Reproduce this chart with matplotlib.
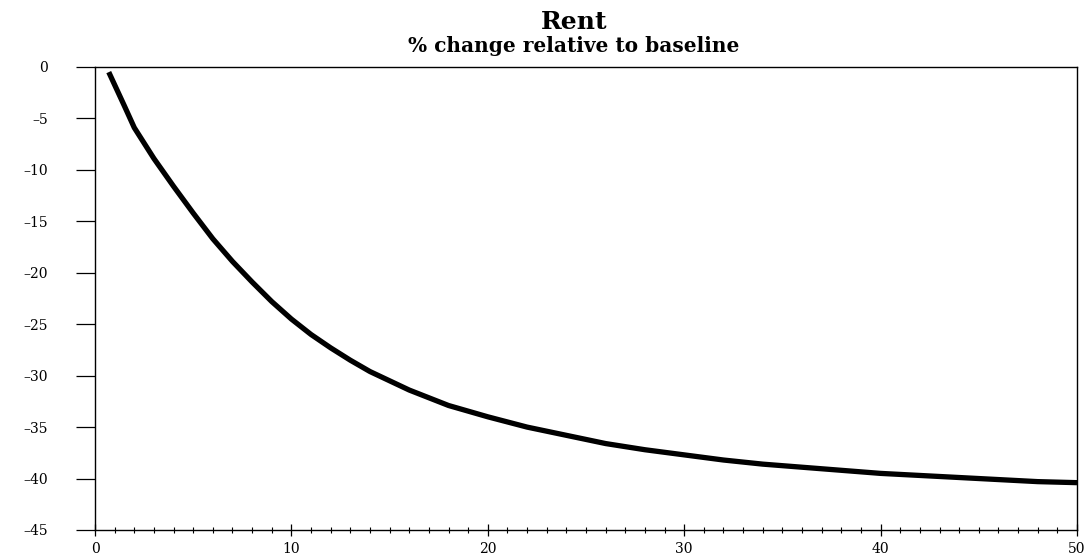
import numpy as np
import matplotlib
matplotlib.use("Agg")
import matplotlib.pyplot as plt
from matplotlib.ticker import MultipleLocator

# values
years = [0.7, 1.5, 2, 3, 4, 5, 6, 7, 8, 9, 10, 11, 12, 13, 14, 15, 16, 18,
         20, 22, 24, 26, 28, 30, 32, 34, 36, 38, 40, 42, 44, 46, 48, 50]
rent_change = [-0.5, -3.8, -5.9, -8.9, -11.6, -14.2, -16.7, -18.9, -20.9,
               -22.8, -24.5, -26.0, -27.3, -28.5, -29.6, -30.5, -31.4, -32.9,
               -34.0, -35.0, -35.8, -36.6, -37.2, -37.7, -38.2, -38.6, -38.9,
               -39.2, -39.5, -39.7, -39.9, -40.1, -40.3, -40.4]
x_ticks = [0, 10, 20, 30, 40, 50]
y_ticks = [0, -5, -10, -15, -20, -25, -30, -35, -40, -45]

plt.rcParams['font.family'] = ['DejaVu Serif']

fig = plt.figure(figsize=(10.87, 5.6), dpi=100)
ax = fig.add_axes([0.0874, 0.0536, 0.9034, 0.8268])

ax.plot(years, rent_change, color="black", linewidth=3.8,
        solid_capstyle="butt", solid_joinstyle="round")

ax.set_xlim(0, 50)
ax.set_ylim(-45, 0)
ax.set_xticks(x_ticks)
ax.set_yticks(y_ticks)
ax.set_yticklabels([str(v).replace("-", "\u2013") for v in y_ticks])
ax.xaxis.set_minor_locator(MultipleLocator(1))

ax.tick_params(axis="x", which="major", direction="inout", length=8, width=0.9,
               labelsize=10, pad=5)
ax.tick_params(axis="x", which="minor", direction="inout", length=4, width=0.8)
ax.tick_params(axis="y", which="major", direction="out", length=14, width=0.9,
               labelsize=10, pad=20)

for sp in ax.spines.values():
    sp.set_linewidth(1.0)

fig.text(0.528, 0.960, "Rent", ha="center", va="center", fontsize=18,
         fontweight="bold")
fig.text(0.528, 0.918, "% change relative to baseline", ha="center",
         va="center", fontsize=14.5, fontweight="bold")

fig.savefig("out.png", dpi=100)
